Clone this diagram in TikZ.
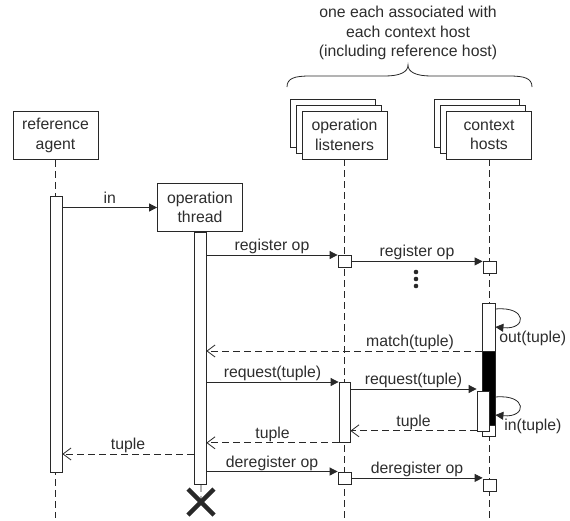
\documentclass[tikz,border=0pt]{standalone}
\usepackage{fontspec}
\setmainfont{Liberation Sans}
\usetikzlibrary{arrows.meta}
\definecolor{ln}{RGB}{40,40,40}
\definecolor{tx}{RGB}{45,45,45}
\begin{document}
\begin{tikzpicture}[x=1pt,y=-1pt, line width=0.8pt, color=ln,
  every node/.style={font=\fontsize{15.8}{19.5}\selectfont, text=tx},
  box/.style={draw=ln, fill=white, minimum width=85pt, minimum height=48pt, inner sep=0pt, align=center},
  bar/.style={draw=ln, fill=white, minimum width=12pt, inner sep=0pt, anchor=north},
  life/.style={draw=ln, dash pattern=on 7pt off 4pt},
  msg/.style={draw=ln, -{Triangle[length=8pt,width=8pt]}},
  ret/.style={draw=ln, dash pattern=on 7pt off 4pt, -{Straight Barb[length=8pt,width=12pt]}},
  lbl/.style={anchor=base, yshift=4.5pt, inner sep=0pt}]
\useasboundingbox (0,0) rectangle (570,520);

% note and brace
\node[align=center] (note) at (408,33) {one each associated with\\each context host\\(including reference host)};
\draw (287,87) .. controls (287,78) and (295,76) .. (310,76) -- (385,76)
      .. controls (400,76) and (408,72) .. (408,65)
      .. controls (408,72) and (416,76) .. (431,76) -- (509,76)
      .. controls (524,76) and (532,78) .. (532,87);

% heads
\node[box] (agent) at (55.5,135.5) {reference\\agent};
\node[box] (thread) at (200,207.5) {operation\\thread};
\node[box] (lst3) at (332.5,123) {};
\node[box] (lst2) at (338.5,129) {};
\node[box] (lst) at (344.5,135) {operation\\listeners};
\node[box] (ctx3) at (477,123) {};
\node[box] (ctx2) at (483,129) {};
\node[box] (ctx) at (489,135) {context\\hosts};

% lifeline ends
\coordinate (aend) at (55.5,518);
\coordinate (lend) at (344.5,518);
\coordinate (cend) at (489,518);
\coordinate (xm) at (201,502);
\draw[life] (agent.south) -- (aend);
\draw[life] (thread.south) -- (xm);
\draw[life] (lst.south) -- (lend);
\draw[life] (ctx.south) -- (cend);

% activation bars
\node[bar, minimum height=276pt] (abar) at (56,196) {};
\node[bar, minimum height=252pt] (tbar) at (200,232) {};
\node[bar, minimum width=11pt, minimum height=60pt] (lbar) at (344.5,382) {};
\node[bar, minimum width=13pt, minimum height=12pt] (lbox1) at (344.5,255) {};
\node[bar, minimum width=13pt, minimum height=12pt] (lbox2) at (344.5,471.5) {};
\node[bar, minimum width=13pt, minimum height=12pt] (cbox1) at (489.5,261) {};
\node[bar, minimum width=13pt, minimum height=12pt] (cbox2) at (489.5,478.5) {};
\node[bar, minimum width=13pt, minimum height=133pt] (cbar) at (488.5,303) {};
\node[bar, fill=black, minimum width=13pt, minimum height=74pt] (cblack) at (488.5,351) {};
\node[bar, minimum height=40pt] (cbar2) at (483,391) {};

% destruction mark
\draw[line width=4.5pt] ([shift={(-13,-13)}]xm) -- ([shift={(13,13)}]xm);
\draw[line width=4.5pt] ([shift={(-13,13)}]xm) -- ([shift={(13,-13)}]xm);

% ellipsis
\fill (416,272) circle (2.3);
\fill (416,279) circle (2.3);
\fill (416,286) circle (2.3);

% messages
\draw[msg] (abar.east |- thread.west) -- node[lbl] {in} (thread.west);
\draw[msg] (tbar.east |- lbox1.north) -- node[lbl] {register op} (lbox1.north west);
\draw[msg] (lbox1.east) -- node[lbl] {register op} (lbox1.east -| cbox1.west);

\draw[msg] ([yshift=-6pt]cbar.north east) .. controls +(32,-3) and +(32,3) .. ([yshift=-24pt]cbar.north east);
\node[anchor=west, inner sep=0pt] (outl) at (499,338) {out(tuple)};

\draw[ret] (cblack.north west) -- node[lbl, pos=0.26] {match(tuple)} (tbar.east |- cblack.north);

\draw[msg] (tbar.east |- lbar.north) -- node[lbl] {request(tuple)} (lbar.north west);
\coordinate (rq2) at ([yshift=-7pt]lbar.north east);
\draw[msg] (rq2) -- node[lbl] {request(tuple)} (rq2 -| cbar2.west);

\draw[msg] ([yshift=-94pt]cbar.north east) .. controls +(32,-3) and +(32,3) .. ([yshift=-112pt]cbar.north east);
\node[anchor=west, inner sep=0pt] (inl) at (504,426) {in(tuple)};

\draw[ret] ([yshift=1pt]cbar2.south west) -- node[lbl] {tuple} ([yshift=1pt]cbar2.south west -| lbar.east);
\draw[ret] (lbar.south west) -- node[lbl] {tuple} (lbar.south west -| tbar.east);
\coordinate (t3) at (0,454);
\draw[ret] (tbar.west |- t3) -- node[lbl] {tuple} (abar.east |- t3);

\draw[msg] (tbar.east |- lbox2.north) -- node[lbl] {deregister op} (lbox2.north west);
\draw[msg] (lbox2.east) -- node[lbl] {deregister op} (lbox2.east -| cbox2.west);
\end{tikzpicture}
\end{document}
